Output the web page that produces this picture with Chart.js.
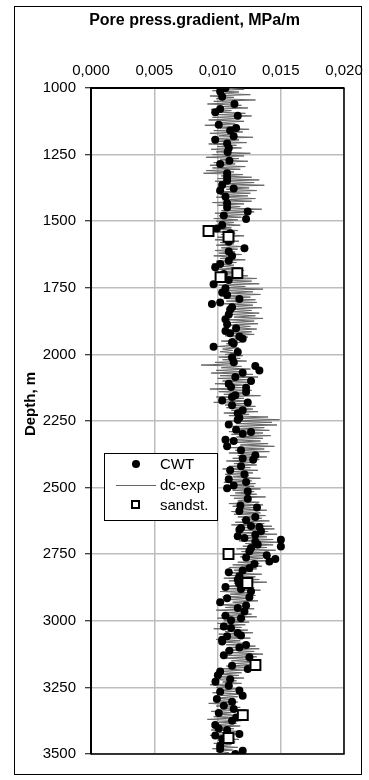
<!DOCTYPE html>
<html>
<head>
<meta charset="utf-8">
<script src="https://cdn.jsdelivr.net/npm/chart.js@4.4.1/dist/chart.umd.min.js"></script>
<style>
  html, body { margin: 0; padding: 0; background: #fff; }
  #wrap { position: relative; width: 369px; height: 780px; }
  #frame { position: absolute; left: 14px; top: 6px; width: 348px; height: 769px; box-sizing: border-box; border: 1px solid #000; pointer-events: none; }
  .ttl { position: absolute; text-align: center; font-family: "Liberation Sans", Arial, sans-serif; font-weight: bold; color: #000; }
  #title { left: 0; top: 10px; width: 389px; line-height: 20px; font-size: 16px; }
  #ytitle { left: -20px; top: 394px; width: 100px; height: 20px; line-height: 20px; font-size: 15px; transform: rotate(-90deg); }
  #legend { position: absolute; left: 104px; top: 453px; width: 114px; height: 68px; box-sizing: border-box; border: 1px solid #000; background: #fff;
            font-family: "Liberation Sans", Arial, sans-serif; font-size: 15px; color: #000; }
  .row { position: absolute; left: 0; height: 18px; line-height: 18px; width: 100%; }
  .row span.t { position: absolute; left: 55px; top: 0; }
  .dot { position: absolute; left: 27px; top: 5px; width: 8px; height: 8px; border-radius: 50%; background: #000; }
  .ln { position: absolute; left: 11px; top: 9px; width: 40px; height: 1px; background: #666; }
  .sq { position: absolute; left: 26px; top: 4px; width: 9px; height: 9px; box-sizing: border-box; border: 2px solid #000; background: #fff; }
</style>
</head>
<body>
<div id="wrap">
  <canvas id="chart" width="369" height="780"></canvas>
  <div id="frame"></div>
  <div id="title" class="ttl">Pore press.gradient, MPa/m</div>
  <div id="ytitle" class="ttl">Depth, m</div>
  <div id="legend">
    <div class="row" style="top:1px"><div class="dot"></div><span class="t">CWT</span></div>
    <div class="row" style="top:22px"><div class="ln"></div><span class="t">dc-exp</span></div>
    <div class="row" style="top:42px"><div class="sq"></div><span class="t">sandst.</span></div>
  </div>
</div>
<script>
// CWT measurements
const cwtDepth = [1000,1013,1033,1060,1079,1091,1104,1138,1150,1160,1181,1194,1208,1225,1240,1273,1285,1320,1335,1348,1364,
  1377,1385,1407,1433,1449,1464,1479,1492,1514,1527,1545,1566,1577,1602,1614,1631,1648,1661,1673,1698,1721,1737,
  1752,1768,1777,1792,1805,1811,1823,1831,1850,1868,1887,1902,1912,1921,1933,1941,1954,1959,1971,1991,
  2012,2029,2044,2060,2069,2085,2100,2110,2122,2125,2141,2153,2160,2173,2181,2191,2210,2221,2238,2245,
  2263,2283,2291,2298,2320,2325,2345,2360,2379,2391,2395,2420,2435,2450,2469,2479,2492,2502,2514,2542,
  2567,2575,2588,2610,2623,2644,2648,2652,2658,2664,2677,2683,2689,2696,2702,2714,2721,2727,2739,2754,
  2762,2768,2777,2787,2802,2811,2818,2833,2846,2860,2873,2881,2890,2912,2915,2930,2943,2952,2965,2981,2990,
  2998,3021,3027,3046,3055,3058,3071,3078,3091,3100,3112,3129,3137,3169,3181,3190,3204,3219,3229,3244,
  3262,3266,3281,3294,3304,3319,3331,3346,3363,3375,3391,3404,3410,3425,3431,3444,3469,3481,3488,3500];
const cwtGrad = [0.01063,0.01021,0.01037,0.01134,0.01021,0.00982,0.0116,0.0101,0.01147,0.0110,0.01128,0.00982,0.01076,0.01089,0.0108,0.01094,0.01021,0.01076,0.01076,0.01076,0.01037,
  0.01128,0.01021,0.01063,0.01076,0.01076,0.01239,0.0105,0.01226,0.01037,0.00995,0.0110,0.0108,0.01089,0.01213,0.01089,0.01115,0.01089,0.01021,0.00982,0.0105,0.01089,0.00969,
  0.01063,0.01037,0.01076,0.01173,0.01021,0.00956,0.01115,0.0110,0.01089,0.01063,0.01076,0.01147,0.01063,0.0110,0.01173,0.01199,0.01115,0.01128,0.00969,0.0116,
  0.01115,0.01128,0.01299,0.01331,0.01199,0.01141,0.01265,0.01089,0.01107,0.01226,0.01226,0.01141,0.01115,0.01037,0.01239,0.01115,0.01199,0.0116,0.01173,0.0116,
  0.01089,0.01147,0.01265,0.01199,0.01063,0.01128,0.01076,0.01186,0.01299,0.01199,0.01282,0.01186,0.0110,0.01213,0.01089,0.01226,0.01128,0.01076,0.01239,0.01239,
  0.01181,0.01312,0.01173,0.01299,0.01226,0.01265,0.01331,0.01186,0.01173,0.01344,0.01299,0.0116,0.01213,0.01501,0.01299,0.01318,0.01501,0.01265,0.01252,0.01389,
  0.01226,0.01457,0.0141,0.01292,0.01252,0.01199,0.01089,0.01173,0.0116,0.0117,0.01063,0.01186,0.01265,0.01252,0.01076,0.01021,0.01226,0.0116,0.01213,0.01063,0.01186,
  0.01107,0.0105,0.01107,0.0116,0.01186,0.01076,0.01037,0.01037,0.01226,0.01173,0.01094,0.0105,0.01252,0.01115,0.01239,0.01021,0.01003,0.0110,0.00984,0.01089,
  0.01173,0.01021,0.01199,0.00995,0.01115,0.0105,0.01128,0.0101,0.01147,0.01115,0.00982,0.0101,0.01076,0.01173,0.00982,0.01037,0.01021,0.01021,0.01199,0.01141];

// sandstone points
const sandDepth = [1537,1559,1695,1710,2749,2858,3166,3354,3440];
const sandGrad  = [0.00929,0.01087,0.01157,0.01024,0.01087,0.01236,0.0130,0.0120,0.01087];

// dc-exponent log, 5 m step
const dcDepth = [
  1000,1005,1010,1015,1020,1025,1030,1035,1040,1045,1050,1055,1060,1065,1070,1075,1080,1085,1090,1095,
  1100,1105,1110,1115,1120,1125,1130,1135,1140,1145,1150,1155,1160,1165,1170,1175,1180,1185,1190,1195,
  1200,1205,1210,1215,1220,1225,1230,1235,1240,1245,1250,1255,1260,1265,1270,1275,1280,1285,1290,1295,
  1300,1305,1310,1315,1320,1325,1330,1335,1340,1345,1350,1355,1360,1365,1370,1375,1380,1385,1390,1395,
  1400,1405,1410,1415,1420,1425,1430,1435,1440,1445,1450,1455,1460,1465,1470,1475,1480,1485,1490,1495,
  1500,1505,1510,1515,1520,1525,1530,1535,1540,1545,1550,1555,1560,1565,1570,1575,1580,1585,1590,1595,
  1600,1605,1610,1615,1620,1625,1630,1635,1640,1645,1650,1655,1660,1665,1670,1675,1680,1685,1690,1695,
  1700,1705,1710,1715,1720,1725,1730,1735,1740,1745,1750,1755,1760,1765,1770,1775,1780,1785,1790,1795,
  1800,1805,1810,1815,1820,1825,1830,1835,1840,1845,1850,1855,1860,1865,1870,1875,1880,1885,1890,1895,
  1900,1905,1910,1915,1920,1925,1930,1935,1940,1945,1950,1955,1960,1965,1970,1975,1980,1985,1990,1995,
  2000,2005,2010,2015,2020,2025,2030,2035,2040,2045,2050,2055,2060,2065,2070,2075,2080,2085,2090,2095,
  2100,2105,2110,2115,2120,2125,2130,2135,2140,2145,2150,2155,2160,2165,2170,2175,2180,2185,2190,2195,
  2200,2205,2210,2215,2220,2225,2230,2235,2240,2245,2250,2255,2260,2265,2270,2275,2280,2285,2290,2295,
  2300,2305,2310,2315,2320,2325,2330,2335,2340,2345,2350,2355,2360,2365,2370,2375,2380,2385,2390,2395,
  2400,2405,2410,2415,2420,2425,2430,2435,2440,2445,2450,2455,2460,2465,2470,2475,2480,2485,2490,2495,
  2500,2505,2510,2515,2520,2525,2530,2535,2540,2545,2550,2555,2560,2565,2570,2575,2580,2585,2590,2595,
  2600,2605,2610,2615,2620,2625,2630,2635,2640,2645,2650,2655,2660,2665,2670,2675,2680,2685,2690,2695,
  2700,2705,2710,2715,2720,2725,2730,2735,2740,2745,2750,2755,2760,2765,2770,2775,2780,2785,2790,2795,
  2800,2805,2810,2815,2820,2825,2830,2835,2840,2845,2850,2855,2860,2865,2870,2875,2880,2885,2890,2895,
  2900,2905,2910,2915,2920,2925,2930,2935,2940,2945,2950,2955,2960,2965,2970,2975,2980,2985,2990,2995,
  3000,3005,3010,3015,3020,3025,3030,3035,3040,3045,3050,3055,3060,3065,3070,3075,3080,3085,3090,3095,
  3100,3105,3110,3115,3120,3125,3130,3135,3140,3145,3150,3155,3160,3165,3170,3175,3180,3185,3190,3195,
  3200,3205,3210,3215,3220,3225,3230,3235,3240,3245,3250,3255,3260,3265,3270,3275,3280,3285,3290,3295,
  3300,3305,3310,3315,3320,3325,3330,3335,3340,3345,3350,3355,3360,3365,3370,3375,3380,3385,3390,3395,
  3400,3405,3410,3415,3420,3425,3430,3435,3440,3445,3450,3455,3460,3465,3470,3475,3480,3485,3490,3495,
  3500];
const dcGrad = [
  0.0104,0.0121,0.0096,0.0117,0.0101,0.0126,0.0094,0.0113,0.0099,0.0130,0.0097,0.0116,0.0092,0.0119,0.0103,0.0124,0.0095,0.0111,0.0098,0.0122,
  0.0100,0.0127,0.0096,0.0118,0.0093,0.0121,0.0099,0.0114,0.0090,0.0116,0.0102,0.0125,0.0097,0.0120,0.0094,0.0112,0.0101,0.0128,0.0095,0.0117,
  0.0098,0.0123,0.0093,0.0115,0.0100,0.0119,0.0095,0.0110,0.0099,0.0126,0.0096,0.0121,0.0091,0.0117,0.0102,0.0124,0.0097,0.0114,0.0094,0.0122,
  0.0096,0.0118,0.0091,0.0113,0.0089,0.0120,0.0103,0.0127,0.0100,0.0133,0.0098,0.0129,0.0105,0.0137,0.0101,0.0125,0.0107,0.0131,0.0099,0.0126,
  0.0102,0.0124,0.0099,0.0130,0.0104,0.0127,0.0096,0.0121,0.0100,0.0118,0.0107,0.0135,0.0103,0.0129,0.0098,0.0123,0.0101,0.0119,0.0097,0.0116,
  0.0099,0.0113,0.0102,0.0118,0.0098,0.0111,0.0101,0.0116,0.0097,0.0114,0.0103,0.0121,0.0100,0.0112,0.0098,0.0117,0.0102,0.0113,0.0099,0.0119,
  0.0103,0.0116,0.0098,0.0114,0.0101,0.0119,0.0097,0.0112,0.0102,0.0122,0.0099,0.0115,0.0096,0.0113,0.0104,0.0118,0.0100,0.0121,0.0103,0.0117,
  0.0100,0.0124,0.0105,0.0131,0.0102,0.0127,0.0107,0.0133,0.0101,0.0122,0.0106,0.0136,0.0103,0.0128,0.0108,0.0134,0.0102,0.0126,0.0105,0.0130,
  0.0107,0.0131,0.0104,0.0128,0.0110,0.0135,0.0108,0.0127,0.0112,0.0133,0.0109,0.0130,0.0113,0.0136,0.0108,0.0129,0.0111,0.0132,0.0110,0.0126,
  0.0114,0.0131,0.0109,0.0127,0.0113,0.0129,0.0106,0.0124,0.0111,0.0122,0.0103,0.0118,0.0107,0.0115,0.0100,0.0117,0.0104,0.0112,0.0102,0.0116,
  0.0106,0.0120,0.0101,0.0118,0.0104,0.0123,0.0098,0.0116,0.0087,0.0119,0.0103,0.0126,0.0099,0.0121,0.0095,0.0128,0.0102,0.0132,0.0100,0.0124,
  0.0104,0.0129,0.0098,0.0122,0.0106,0.0119,0.0094,0.0127,0.0101,0.0124,0.0105,0.0134,0.0099,0.0121,0.0103,0.0126,0.0097,0.0123,0.0106,0.0130,
  0.0107,0.0128,0.0111,0.0132,0.0105,0.0125,0.0109,0.0140,0.0113,0.0149,0.0110,0.0143,0.0115,0.0147,0.0112,0.0137,0.0117,0.0141,0.0109,0.0136,
  0.0111,0.0142,0.0115,0.0136,0.0108,0.0134,0.0113,0.0140,0.0118,0.0145,0.0110,0.0137,0.0114,0.0141,0.0109,0.0131,0.0116,0.0139,0.0112,0.0133,
  0.0107,0.0129,0.0113,0.0131,0.0109,0.0126,0.0104,0.0132,0.0111,0.0128,0.0106,0.0125,0.0112,0.0134,0.0108,0.0127,0.0105,0.0130,0.0110,0.0129,
  0.0108,0.0134,0.0112,0.0129,0.0114,0.0131,0.0110,0.0138,0.0113,0.0127,0.0116,0.0133,0.0109,0.0136,0.0112,0.0130,0.0115,0.0139,0.0111,0.0134,
  0.0113,0.0138,0.0116,0.0135,0.0119,0.0141,0.0114,0.0137,0.0111,0.0143,0.0117,0.0145,0.0121,0.0140,0.0118,0.0147,0.0122,0.0139,0.0116,0.0144,
  0.0117,0.0150,0.0122,0.0144,0.0120,0.0139,0.0115,0.0146,0.0119,0.0137,0.0113,0.0142,0.0118,0.0136,0.0121,0.0140,0.0116,0.0133,0.0112,0.0135,
  0.0109,0.0131,0.0113,0.0128,0.0107,0.0135,0.0111,0.0130,0.0105,0.0133,0.0109,0.0139,0.0113,0.0127,0.0104,0.0129,0.0108,0.0134,0.0102,0.0126,
  0.0110,0.0130,0.0104,0.0126,0.0108,0.0132,0.0112,0.0124,0.0101,0.0121,0.0106,0.0129,0.0099,0.0123,0.0108,0.0127,0.0103,0.0131,0.0100,0.0122,
  0.0105,0.0125,0.0100,0.0122,0.0103,0.0119,0.0097,0.0124,0.0106,0.0128,0.0101,0.0121,0.0104,0.0126,0.0099,0.0118,0.0103,0.0125,0.0107,0.0130,
  0.0109,0.0133,0.0106,0.0129,0.0112,0.0136,0.0108,0.0131,0.0105,0.0127,0.0111,0.0134,0.0113,0.0129,0.0107,0.0125,0.0103,0.0122,0.0100,0.0119,
  0.0102,0.0117,0.0098,0.0121,0.0096,0.0115,0.0104,0.0119,0.0094,0.0112,0.0099,0.0118,0.0101,0.0114,0.0096,0.0120,0.0103,0.0116,0.0098,0.0113,
  0.0097,0.0116,0.0093,0.0114,0.0099,0.0118,0.0103,0.0122,0.0095,0.0111,0.0100,0.0117,0.0097,0.0113,0.0092,0.0119,0.0101,0.0115,0.0096,0.0118,
  0.0098,0.0113,0.0095,0.0118,0.0101,0.0115,0.0094,0.0112,0.0099,0.0117,0.0103,0.0114,0.0097,0.0111,0.0100,0.0116,0.0096,0.0112,0.0099,0.0109,
  0.0104];

const toPts = (xs, ys) => xs.map((x, i) => ({ x: x, y: ys[i] }));

const font = 'Liberation Sans, Arial, sans-serif';

// black box round the plot area (right and bottom sides)
const plotFrame = {
  id: 'plotFrame',
  afterDraw(chart) {
    const a = chart.chartArea, c = chart.ctx;
    c.save();
    c.strokeStyle = '#000';
    c.lineWidth = 1.5;
    c.beginPath();
    c.moveTo(a.right, a.top);
    c.lineTo(a.right, a.bottom);
    c.lineTo(a.left, a.bottom);
    c.stroke();
    c.restore();
  }
};

new Chart(document.getElementById('chart'), {
  type: 'scatter',
  data: {
    datasets: [
      {
        label: 'sandst.',
        data: toPts(sandGrad, sandDepth),
        pointStyle: 'rect',
        pointRadius: 7,
        backgroundColor: '#fff',
        borderColor: '#000',
        borderWidth: 2,
        order: 1
      },
      {
        label: 'CWT',
        data: toPts(cwtGrad, cwtDepth),
        pointRadius: 4,
        backgroundColor: '#000',
        borderWidth: 0,
        order: 2
      },
      {
        label: 'dc-exp',
        data: toPts(dcGrad, dcDepth),
        showLine: true,
        pointRadius: 0,
        borderColor: '#666666',
        borderWidth: 1,
        order: 3
      }
    ]
  },
  options: {
    responsive: false,
    animation: false,
    layout: { padding: { left: 22, top: 11, right: 25, bottom: 26 } },
    plugins: {
      legend: { display: false },
      tooltip: { enabled: false }
    },
    scales: {
      x: {
        type: 'linear',
        position: 'top',
        min: 0,
        max: 0.02,
        ticks: {
          stepSize: 0.005,
          padding: 8,
          color: '#000',
          font: { family: font, size: 15 },
          callback: v => v.toFixed(3).replace('.', ',')
        },
        grid: { color: '#bdbdbd', lineWidth: 1.5, drawTicks: false },
        border: { color: '#000', width: 2 },
        afterFit: s => { s.height = 77; s.paddingLeft = 0; s.paddingRight = 0; }
      },
      y: {
        type: 'linear',
        reverse: true,
        min: 1000,
        max: 3500,
        ticks: {
          stepSize: 250,
          padding: 9,
          color: '#000',
          font: { family: font, size: 15 },
          callback: v => String(v)
        },
        grid: { color: '#bdbdbd', lineWidth: 1.5, tickColor: '#000', tickLength: 6, tickWidth: 1 },
        border: { color: '#000', width: 2 },
        afterFit: s => { s.width = 69; s.paddingTop = 0; s.paddingBottom = 0; }
      }
    }
  },
  plugins: [plotFrame]
});
</script>
</body>
</html>
